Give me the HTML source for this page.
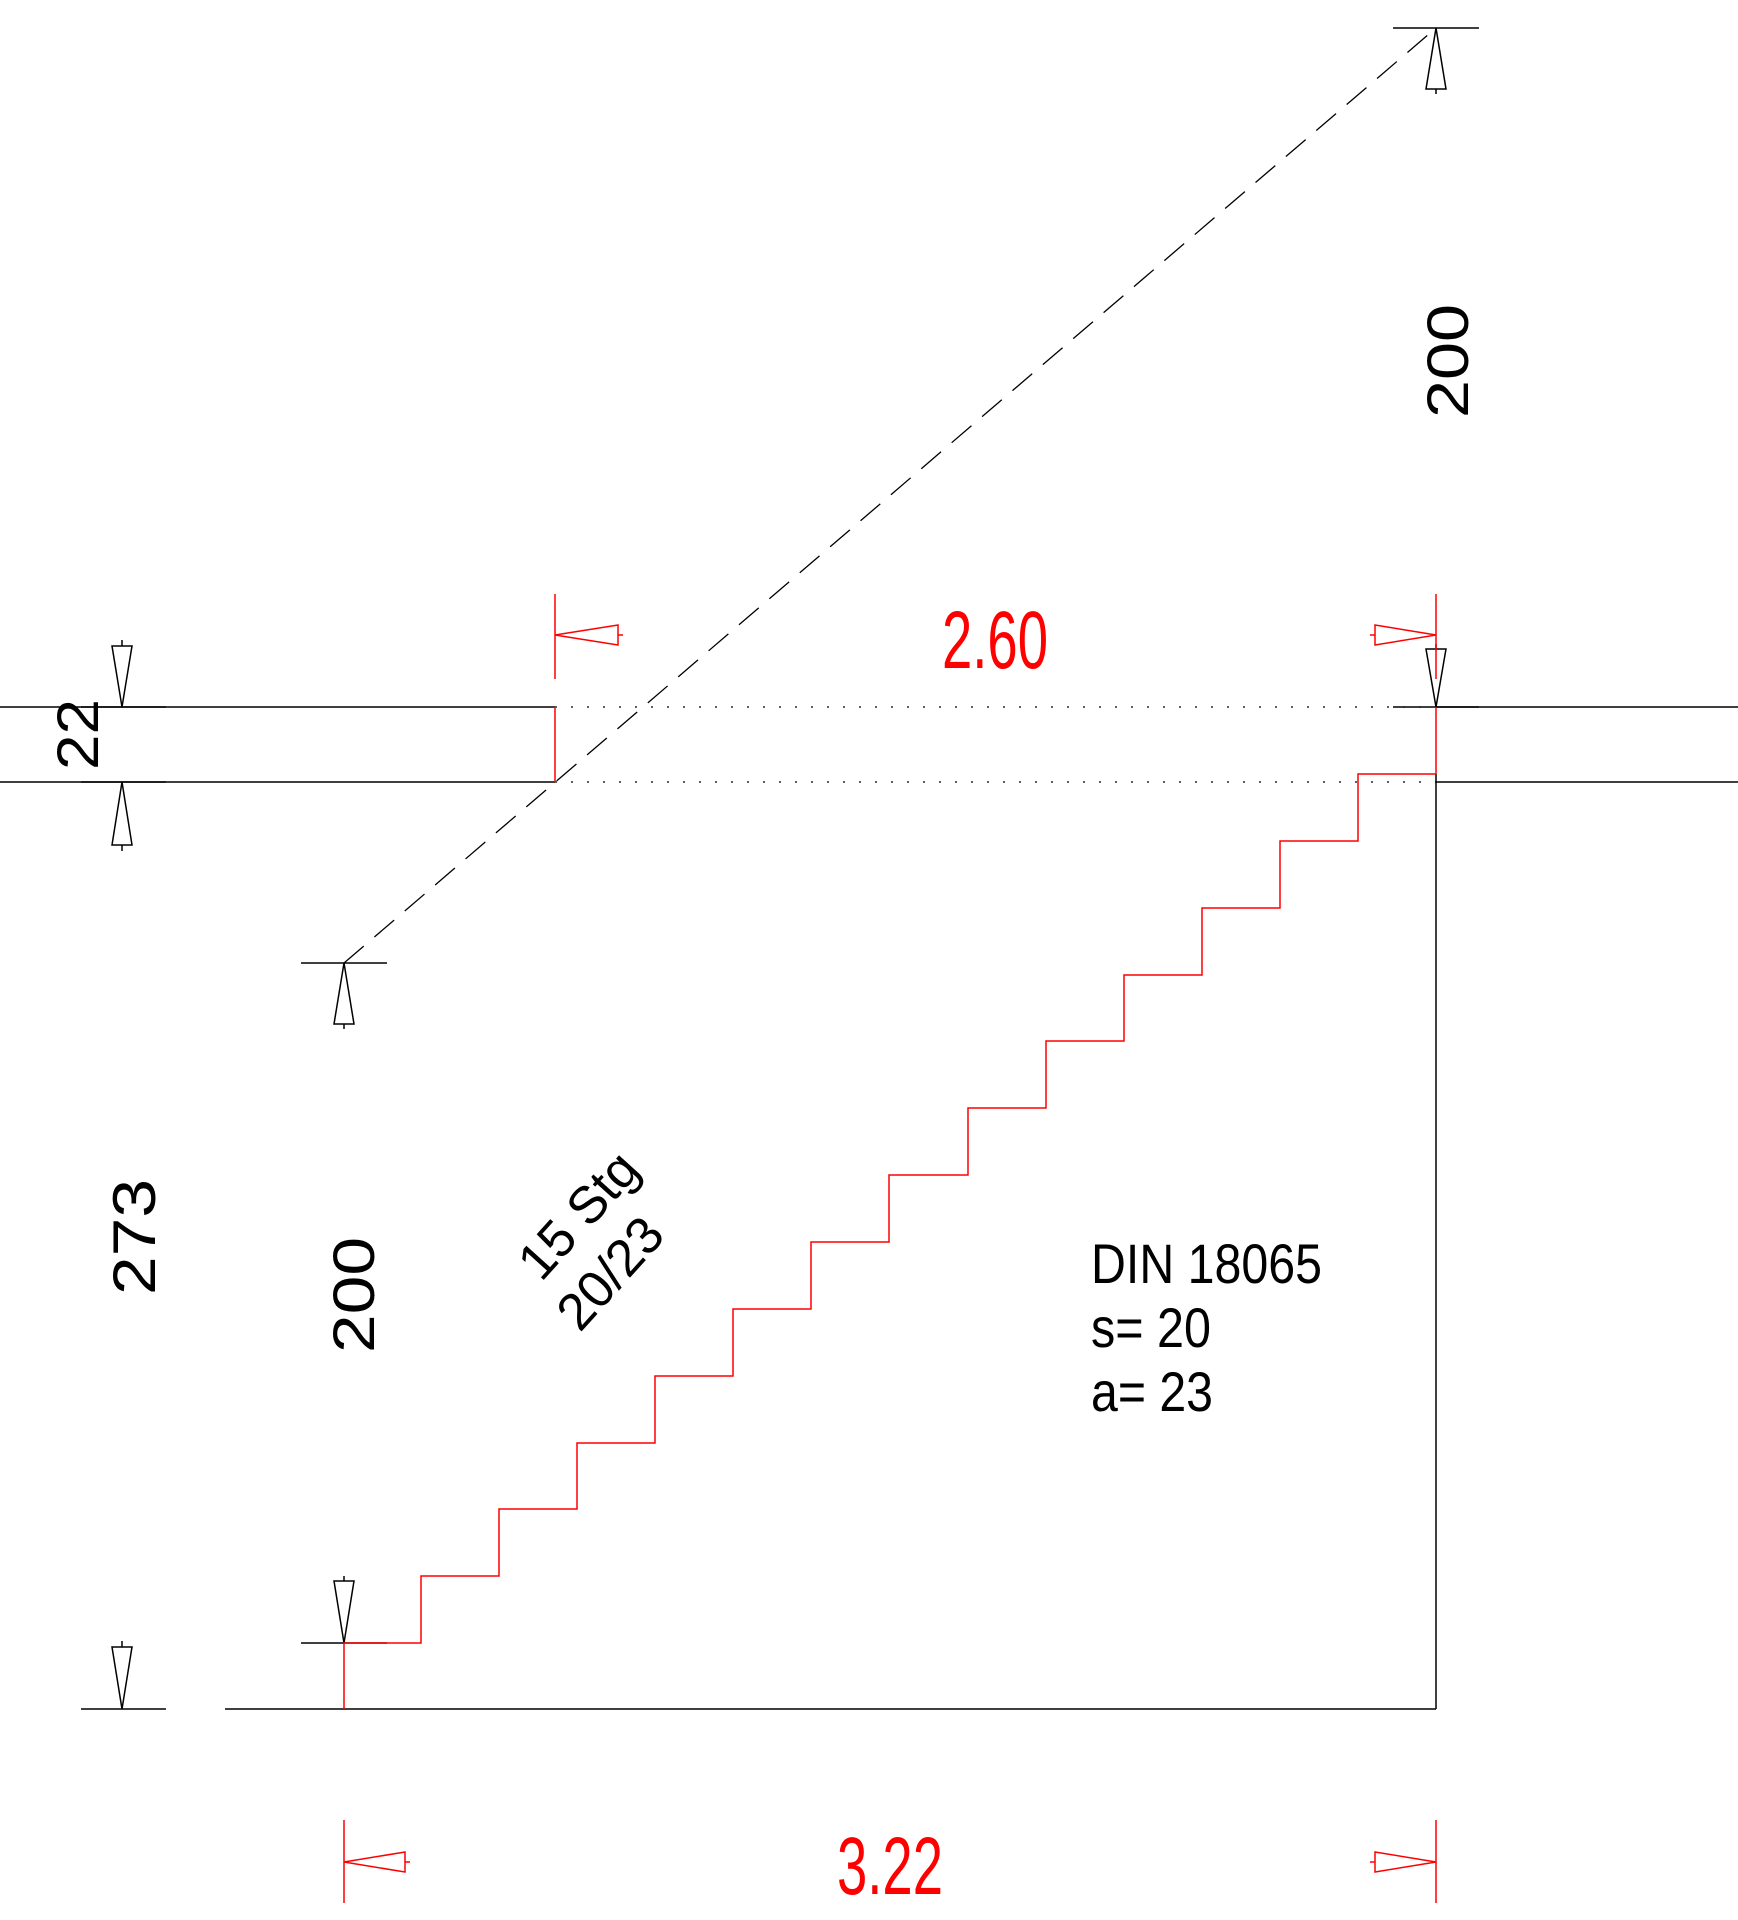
<!DOCTYPE html>
<html><head><meta charset="utf-8"><style>html,body{margin:0;padding:0;background:#fff}svg{display:block}</style></head>
<body>
<svg width="1738" height="1920" viewBox="0 0 1738 1920" xmlns="http://www.w3.org/2000/svg" font-family="Liberation Sans, sans-serif">
<g stroke="#000" stroke-width="1.5" fill="none">
  <line x1="0" y1="707" x2="555" y2="707"/>
  <line x1="0" y1="782" x2="555" y2="782"/>
  <line x1="1436" y1="707" x2="1738" y2="707"/>
  <line x1="1436" y1="782" x2="1738" y2="782"/>
  <line x1="555" y1="707" x2="1436" y2="707" stroke-dasharray="2 14" stroke-width="1.2"/>
  <line x1="555" y1="782" x2="1436" y2="782" stroke-dasharray="2 14" stroke-width="1.2"/>
  <line x1="344" y1="963" x2="1436" y2="28" stroke-dasharray="26 14" stroke-width="1.3"/>
  <line x1="1393" y1="28" x2="1479" y2="28"/>
  <line x1="1393" y1="707" x2="1479" y2="707"/>
  <line x1="301" y1="963" x2="387" y2="963"/>
  <line x1="301" y1="1643" x2="387" y2="1643"/>
  <line x1="81" y1="707" x2="166" y2="707"/>
  <line x1="81" y1="782" x2="166" y2="782"/>
  <line x1="81" y1="1709" x2="166" y2="1709"/>
  <line x1="225" y1="1709" x2="1436" y2="1709"/>
  <line x1="1436" y1="774" x2="1436" y2="1709"/>
  <polygon points="1436,28 1426,89 1446,89"/><line x1="1436" y1="89" x2="1436" y2="94"/>
  <polygon points="1436,707 1426,649 1446,649"/><line x1="1436" y1="649" x2="1436" y2="644"/>
  <polygon points="344,963 334,1024 354,1024"/><line x1="344" y1="1024" x2="344" y2="1029"/>
  <polygon points="344,1643 334,1581 354,1581"/><line x1="344" y1="1581" x2="344" y2="1576"/>
  <polygon points="122,707 112,646 132,646"/><line x1="122" y1="646" x2="122" y2="640"/>
  <polygon points="122,782 112,845 132,845"/><line x1="122" y1="845" x2="122" y2="851"/>
  <polygon points="122,1709 112,1647 132,1647"/><line x1="122" y1="1647" x2="122" y2="1641"/>
</g>
<g stroke="#f00" stroke-width="1.5" fill="none">
  <line x1="555" y1="594" x2="555" y2="679"/>
  <line x1="555" y1="707" x2="555" y2="782"/>
  <line x1="1436" y1="594" x2="1436" y2="679"/>
  <line x1="1436" y1="707" x2="1436" y2="774"/>
  <polygon points="555,635 618,625 618,645"/><line x1="618" y1="635" x2="623" y2="635"/>
  <polygon points="1436,635 1375,625 1375,645"/><line x1="1375" y1="635" x2="1370" y2="635"/>
  <line x1="344" y1="1820" x2="344" y2="1903"/>
  <line x1="1436" y1="1820" x2="1436" y2="1903"/>
  <polygon points="344,1862 405,1852 405,1872"/><line x1="405" y1="1862" x2="410" y2="1862"/>
  <polygon points="1436,1862 1375,1852 1375,1872"/><line x1="1375" y1="1862" x2="1370" y2="1862"/>
  <path d="M344 1709 V1643 H421 V1576 H499 V1509 H577 V1443 H655 V1376 H733 V1309 H811 V1242 H889 V1175 H968 V1108 H1046 V1041 H1124 V975 H1202 V908 H1280 V841 H1358 V774 H1436"/>
</g>
<g fill="#f00" font-size="82">
  <text x="942" y="668" textLength="106" lengthAdjust="spacingAndGlyphs">2.60</text>
  <text x="837" y="1894" textLength="106" lengthAdjust="spacingAndGlyphs">3.22</text>
</g>
<g fill="#000">
  <text transform="translate(1468,418) rotate(-90)" font-size="58" textLength="114" lengthAdjust="spacingAndGlyphs">200</text>
  <text transform="translate(98,770) rotate(-90)" font-size="58" textLength="71" lengthAdjust="spacingAndGlyphs">22</text>
  <text transform="translate(155,1295) rotate(-90)" font-size="60" textLength="116" lengthAdjust="spacingAndGlyphs">273</text>
  <text transform="translate(374,1353) rotate(-90)" font-size="58" textLength="116" lengthAdjust="spacingAndGlyphs">200</text>
  <text transform="translate(578,1215) rotate(-48)" font-size="52" text-anchor="middle" dy="18">15 Stg</text>
  <text transform="translate(610,1273) rotate(-48)" font-size="52" text-anchor="middle" dy="18">20/23</text>
  <text x="1091" y="1283" font-size="56" textLength="231" lengthAdjust="spacingAndGlyphs">DIN 18065</text>
  <text x="1091" y="1347" font-size="56" textLength="120" lengthAdjust="spacingAndGlyphs">s= 20</text>
  <text x="1091" y="1411" font-size="56" textLength="122" lengthAdjust="spacingAndGlyphs">a= 23</text>
</g>
</svg>
</body></html>
